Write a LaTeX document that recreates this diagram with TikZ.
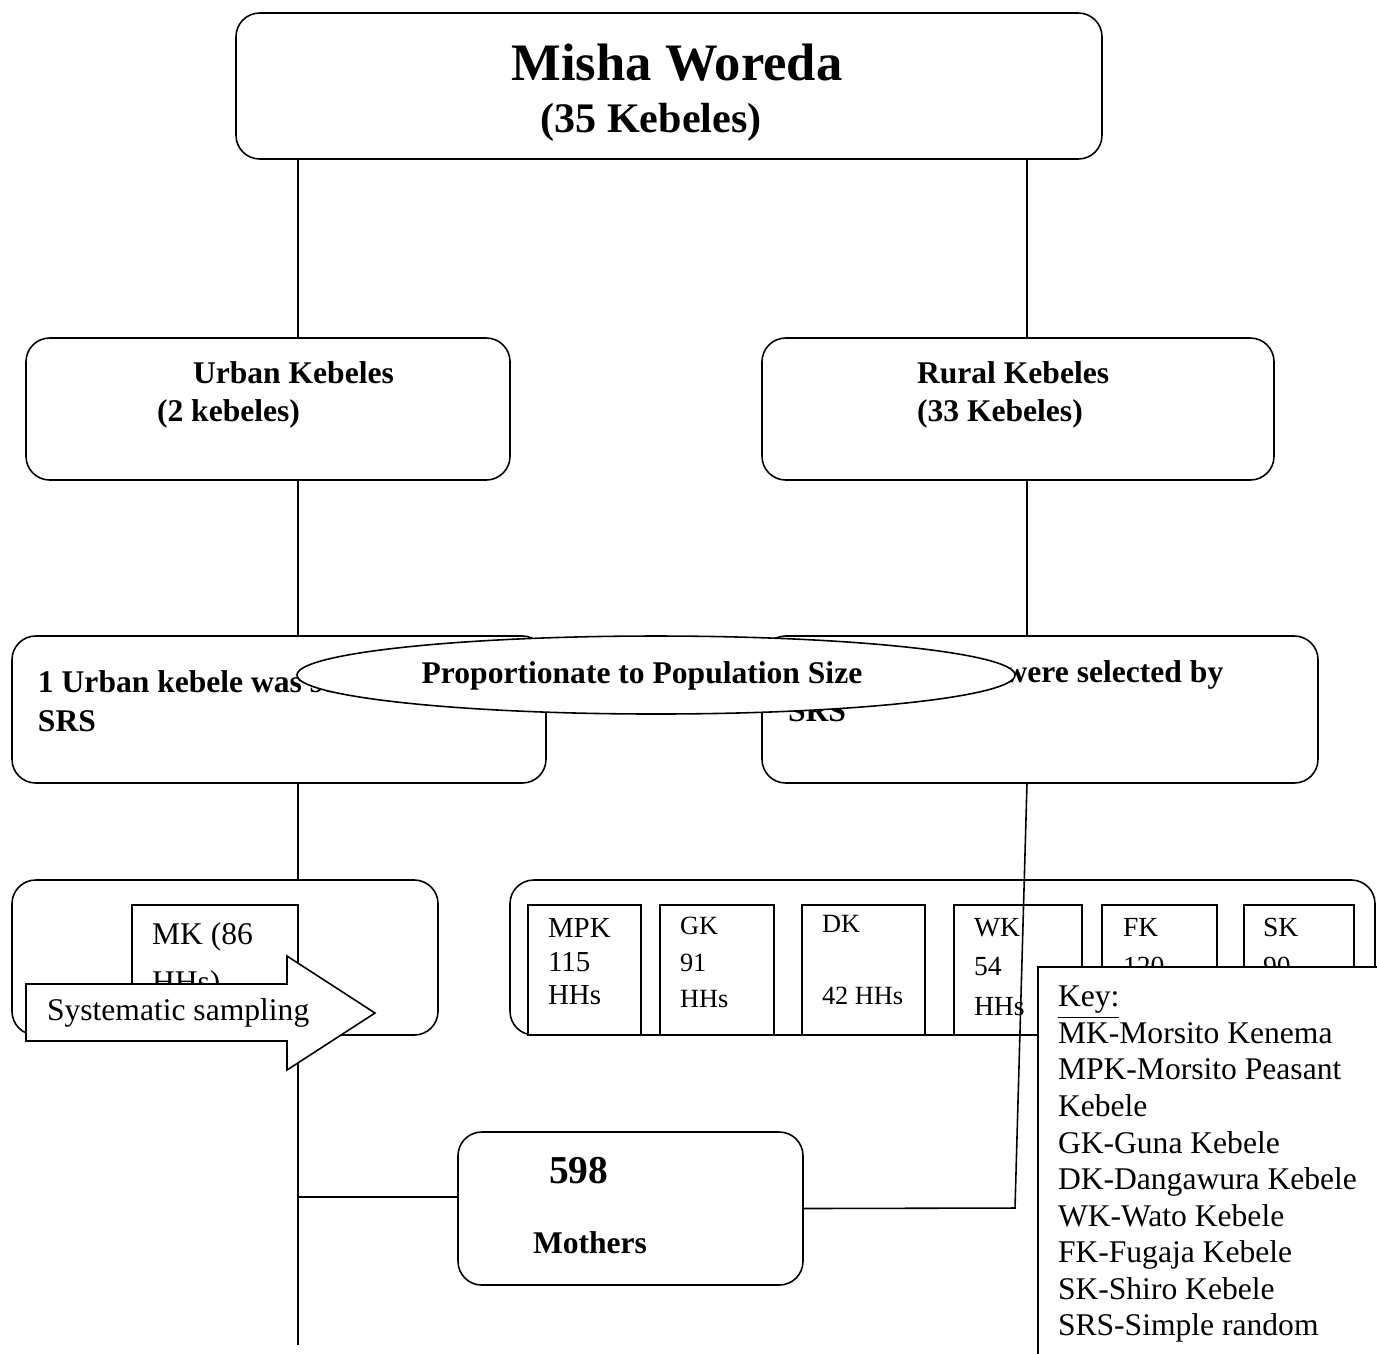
\documentclass[tikz,border=0pt]{standalone}
\usepackage{fontspec}
\setmainfont{Liberation Serif}
\usetikzlibrary{shapes.geometric, positioning, calc, fit}
\newcommand{\pxu}{0.38pt}

\begin{document}
\begin{tikzpicture}[x=\pxu, y=-\pxu, line width=0.6pt,
        every node/.style={inner sep=0pt, outer sep=0pt},
        rbox/.style={draw, rounded corners=9pt, fill=white},
        hhbox/.style={draw, fill=white},
        btxt/.style={font=\bfseries\fontsize{12}{14.5}\selectfont, align=left},
        ntxt/.style={font=\fontsize{12}{13.9}\selectfont, align=left},
        stxt/.style={font=\fontsize{10}{12.7}\selectfont, align=left, anchor=north west}]

    \useasboundingbox (0,0) rectangle (1377,1353);

    % Define boxes
    \node[rbox, fit={(236,13) (1102,159)}] (woreda) {};
    \node[rbox, fit={(26,338) (510,480)}] (urban) {};
    \node[rbox, fit={(762,338) (1274,480)}] (rural) {};
    \node[rbox, fit={(12,636) (546,783)}] (urbSel) {};
    \node[rbox, fit={(762,636) (1318,783)}] (rurSel) {};

    % Texts of the upper boxes
    \node[anchor=base, font=\bfseries\fontsize{20}{24}\selectfont] (woredaTitle) at (677,80) {Misha Woreda};
    \node[anchor=base, font=\bfseries\fontsize{16}{19}\selectfont] (woredaCount) at (651,132) {(35 Kebeles)};
    \node[btxt, anchor=base west] (urbanTitle) at (193,383) {Urban Kebeles};
    \node[btxt, anchor=base west] (urbanCount) at (157,421) {(2 kebeles)};
    \node[btxt, anchor=base west] (ruralTitle) at (917,383) {Rural Kebeles};
    \node[btxt, anchor=base west] (ruralCount) at (917,421) {(33 Kebeles)};
    \node[btxt, anchor=north west, font=\bfseries\fontsize{12}{14.8}\selectfont] (urbSelText) at (38,671) {1 Urban kebele was selected by\\SRS};
    \node[btxt, anchor=north west] (rurSelText) at (788,661) {6 Rural kebeles were selected by\\SRS};

    % Ellipse over the selection boxes
    \node[draw, ellipse, fill=white, minimum width=718*\pxu, minimum height=78*\pxu] (pps) at (656,675) {};
    \node[btxt, anchor=base] (ppsText) at (642,683) {Proportionate to Population Size};

    % Connectors of the upper part
    \coordinate (lx) at (298,0);
    \coordinate (rx) at (1027,0);
    \draw (woreda.south -| lx) -- (urban.north -| lx);
    \draw (woreda.south -| rx) -- (rural.north -| rx);
    \draw (urban.south -| lx) -- (urbSel.north -| lx);
    \draw (rural.south -| rx) -- (rurSel.north -| rx);

    % Urban households
    \node[rbox, fit={(12,880) (438,1035)}] (urbHH) {};
    \node[hhbox, fit={(132,905) (298,1012)}] (mk) {};
    \node[ntxt, anchor=north west, font=\fontsize{12}{17.9}\selectfont] (mkText) at (152,923) {MK (86\\HHs)};
    \draw (urbSel.south -| lx) -- (urbHH.north -| lx);
    \coordinate (lend) at (298,1345);
    \draw (urbHH.south -| lx) -- (lend);

    % Sampling arrow
    \draw[fill=white] (26,984) -- (287,984) -- (287,956) -- (375,1013) -- (287,1070) -- (287,1041) -- (26,1041) -- cycle;
    \node[ntxt, anchor=base west] (sysText) at (47,1020) {Systematic sampling};

    % Rural households
    \node[rbox, fit={(510,880) (1375,1035)}] (rurHH) {};
    \foreach \xa/\xb/\nm in {528/641/mpk, 660/774/gk, 802/925/dk, 954/1082/wk, 1102/1217/fk, 1244/1354/sk}
        \node[hhbox, fit={(\xa,905) (\xb,1035)}] (\nm) {};
    \node[stxt, font=\fontsize{11}{12.7}\selectfont] (mpkText) at (548,919) {MPK\\115\\HHs};
    \node[stxt, font=\fontsize{10}{13.9}\selectfont] (gkText) at (680,917) {GK\\91\\HHs};
    \node[stxt, font=\fontsize{10}{13.7}\selectfont] (dkText) at (822,915) {DK\\ \\42 HHs};
    \node[stxt, font=\fontsize{10.5}{15}\selectfont] (wkText) at (974,918) {WK\\54\\HHs};
    \node[stxt, font=\fontsize{10.5}{15}\selectfont] (fkText) at (1123,918) {FK\\120\\HHs};
    \node[stxt, font=\fontsize{10.5}{15}\selectfont] (skText) at (1263,918) {SK\\90\\HHs};

    % Mothers
    \node[rbox, fit={(458,1132) (803,1285)}] (mothers) {};
    \node[anchor=base west, font=\bfseries\fontsize{15}{18}\selectfont] (mothersCount) at (549,1183) {598};
    \node[btxt, anchor=base west] (mothersText) at (533,1253) {Mothers};
    \coordinate (lbranch) at (298,1197);
    \draw (lbranch) -- (lbranch -| mothers.west);
    \coordinate (rbend) at (1015,1208);
    \draw (rurSel.south -| rx) -- (rbend) -- (mothers.east);

    % Key
    \node[draw, fill=white, fit={(1038,967) (1385,1365)}] (key) {};
    \node[ntxt, anchor=north west] (keyText) at (1058,986) {\underline{Key:}\\MK-Morsito Kenema\\MPK-Morsito Peasant\\Kebele\\GK-Guna Kebele\\DK-Dangawura Kebele\\WK-Wato Kebele\\FK-Fugaja Kebele\\SK-Shiro Kebele\\SRS-Simple random};

\end{tikzpicture}
\end{document}
